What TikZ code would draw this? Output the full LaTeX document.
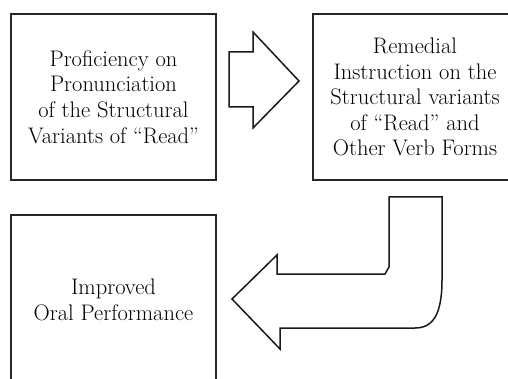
\documentclass[tikz,border=0pt]{standalone}
\begin{document}
\begin{tikzpicture}[x=1pt,y=-1pt,
  box/.style={draw=black!85,line width=1.5pt,align=center,inner sep=0pt,
    font=\fontsize{22.5}{25.6}\selectfont},
  blockarrow/.style={draw=black!90,line width=1.5pt,line join=miter,fill=white}]
\useasboundingbox (0,0) rectangle (508,379);
\clip (0,0) rectangle (508,379);
\node[box,minimum width=205pt,minimum height=166pt] (b1) at (113.5,97)
  {Proficiency on\\Pronunciation\\of the Structural\\Variants of “Read”};
\node[box,minimum width=204pt,minimum height=166pt] (b2) at (415,97)
  {Remedial\\Instruction on the\\Structural variants\\of “Read” and\\Other Verb Forms};
\node[box,minimum width=205pt,minimum height=170pt] (b3) at (113.5,300)
  {Improved\\Oral Performance};
% right block arrow
\draw[blockarrow] (229,52) -- (253,52) -- (253,32) -- (299,81) -- (253,128)
  -- (253,107) -- (229,107) -- cycle;
% bent block arrow
\draw[blockarrow] (389,197) -- (442,197) -- (442,280)
  .. controls (442,316) and (432,328) .. (415,328)
  -- (280,328) -- (280,349) -- (232,299) -- (277,255) -- (277,274)
  -- (385,274) -- (389,267) -- cycle;
\end{tikzpicture}
\end{document}
